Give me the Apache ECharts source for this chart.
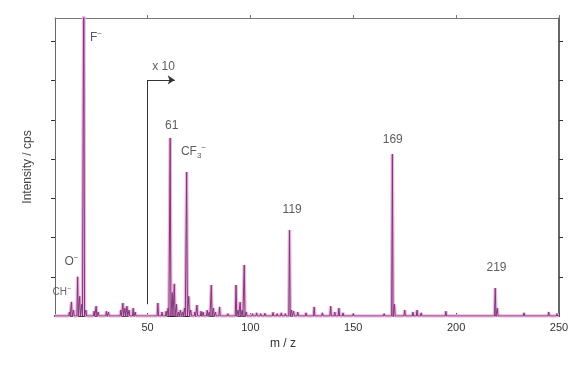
<!DOCTYPE html>
<html><head><meta charset="utf-8">
<script src="https://cdn.jsdelivr.net/npm/echarts@6/dist/echarts.min.js"></script>
<style>html,body{margin:0;padding:0;background:#fff}#c{width:579px;height:368px}</style>
</head><body><div id="c"></div>
<script>
// Peak positions (m/z) and intensities (arbitrary units, y tick = 1)
const peakMz = [12,13,14,16,17,18,19,20,24,25,26,30,31,37,38,39,40,41,43,44,
  55,57,59,60,61,62,63,64,65,66,67,68,69,70,71,73,74,76,77,79,80,81,82,83,85,87,89,91,
  93,94,95,96,97,98,101,103,105,107,109,111,113,115,117,119,120,121,123,127,131,135,139,141,143,145,
  150,155,160,165,169,170,175,179,181,183,187,195,200,205,210,219,220,223,228,233,240,245,249];
const peakInt = [0.1,0.36,0.15,1.0,0.5,0.3,9,0.15,0.12,0.25,0.1,0.12,0.1,0.15,0.33,0.2,0.25,0.15,0.2,0.1,
  0.33,0.1,0.12,0.2,4.54,0.6,0.82,0.3,0.1,0.15,0.1,0.2,3.67,0.5,0.15,0.1,0.28,0.12,0.1,0.15,0.1,0.79,0.2,0.1,0.23,0.05,0.06,0.05,
  0.79,0.15,0.35,0.15,1.3,0.1,0.06,0.08,0.06,0.07,0.05,0.09,0.06,0.08,0.06,2.19,0.15,0.12,0.1,0.08,0.23,0.08,0.25,0.1,0.2,0.08,
  0.06,0.05,0.05,0.06,4.13,0.3,0.15,0.1,0.15,0.08,0.05,0.12,0.05,0.04,0.05,0.71,0.2,0.05,0.04,0.08,0.04,0.1,0.06];

const xTicks = [50,100,150,200,250];
const yTicks = [1,2,3,4,5,6,7];

// Annotations: [m/z, intensity, text]
const labelX = [24.9, 13, 8.3, 61.7, 72.3, 120.3, 169.2, 219.6, 57.8];
const labelY = [7.1, 1.38, 0.6, 4.85, 4.18, 2.7, 4.5, 1.22, 6.35];
const labelText = ['{t|F}{sup|−}', '{t|O}{sup|−}', '{s|CH}{ssup|−}', '{t|61}', '{t|CF}{sub|3}{sup|−}', '{t|119}', '{t|169}', '{t|219}', '{t|x 10}'];

// "x 10" marker: vertical line from baseline up, arrow to the right
const markStartX = 50, markBottomY = 0.3, markTopY = 6.02, markEndX = 63.2;

const halfWidth = 0.35;
const lineData = [];
peakMz.forEach((m, i) => {
  lineData.push([m - halfWidth, 0], [m, peakInt[i]], [m + halfWidth, 0]);
});
lineData.unshift([5, 0]);
lineData.push([250, 0]);

const labelData = labelX.map((x, i) => [x, labelY[i], labelText[i]]);

const font = 'Liberation Sans, Arial, sans-serif';
const chart = echarts.init(document.getElementById('c'));
chart.setOption({
  animation: false,
  backgroundColor: '#fff',
  grid: {left: 55, right: 20, top: 18, bottom: 52},
  xAxis: [{
    type: 'value', min: 5, max: 250, position: 'bottom',
    name: 'm / z', nameLocation: 'middle', nameGap: 22,
    nameTextStyle: {color: '#333', fontSize: 12, fontFamily: font, padding: [0, 48, 0, 0]},
    splitLine: {show: false},
    axisLine: {onZero: false, lineStyle: {color: '#3a1f3a', width: 2}},
    axisTick: {show: true, inside: true, length: 3, customValues: xTicks, lineStyle: {color: '#444'}},
    axisLabel: {customValues: xTicks, color: '#333', fontSize: 11, fontFamily: font, margin: 6}
  }, {
    type: 'value', min: 5, max: 250, position: 'top',
    splitLine: {show: false},
    axisLine: {show: true, onZero: false, lineStyle: {color: '#777', width: 1}},
    axisTick: {show: true, length: 3, customValues: xTicks, lineStyle: {color: '#777'}},
    axisLabel: {show: false}
  }],
  yAxis: [{
    type: 'value', min: 0, max: 7.6, position: 'left',
    name: 'Intensity / cps', nameLocation: 'middle', nameGap: 21,
    nameTextStyle: {color: '#444', fontSize: 12, fontFamily: font},
    splitLine: {show: false},
    axisLine: {show: true, onZero: false, lineStyle: {color: '#666', width: 1}},
    axisTick: {show: true, length: 4, customValues: yTicks, lineStyle: {color: '#333'}},
    axisLabel: {show: false}
  }, {
    type: 'value', min: 0, max: 7.6, position: 'right',
    splitLine: {show: false},
    axisLine: {show: true, onZero: false, lineStyle: {color: '#333', width: 1.5}},
    axisTick: {show: true, length: 4, customValues: yTicks, lineStyle: {color: '#333'}},
    axisLabel: {show: false}
  }],
  series: [{
    type: 'line', data: lineData, symbol: 'none', silent: true,
    lineStyle: {color: '#e8b8de', width: 3.5}, z: 2
  }, {
    type: 'line', data: lineData, symbol: 'none', silent: true,
    lineStyle: {color: '#84367a', width: 1}, z: 3,
    markLine: {
      silent: true, animation: false, label: {show: false},
      lineStyle: {color: '#333', width: 1, type: 'solid'},
      data: [
        [{coord: [markStartX, markBottomY], symbol: 'none'}, {coord: [markStartX, markTopY], symbol: 'none'}],
        [{coord: [markStartX, markTopY], symbol: 'none'}, {coord: [markEndX, markTopY], symbol: 'arrow', symbolSize: 7}]
      ]
    }
  }, {
    type: 'scatter', data: labelData, symbolSize: 0.1, silent: true, z: 5,
    itemStyle: {color: 'rgba(0,0,0,0)'},
    label: {
      show: true, position: 'inside', color: '#333', fontFamily: font,
      formatter: p => p.data[2],
      rich: {
        t: {fontSize: 12, color: '#333', fontFamily: font, lineHeight: 16, verticalAlign: 'middle'},
        s: {fontSize: 10, color: '#444', fontFamily: font, lineHeight: 14, verticalAlign: 'middle'},
        sup: {fontSize: 8, color: '#333', fontFamily: font, verticalAlign: 'top', lineHeight: 10},
        ssup: {fontSize: 7, color: '#444', fontFamily: font, verticalAlign: 'top', lineHeight: 9},
        sub: {fontSize: 8, color: '#333', fontFamily: font, verticalAlign: 'bottom', lineHeight: 10}
      }
    }
  }]
});
</script></body></html>
